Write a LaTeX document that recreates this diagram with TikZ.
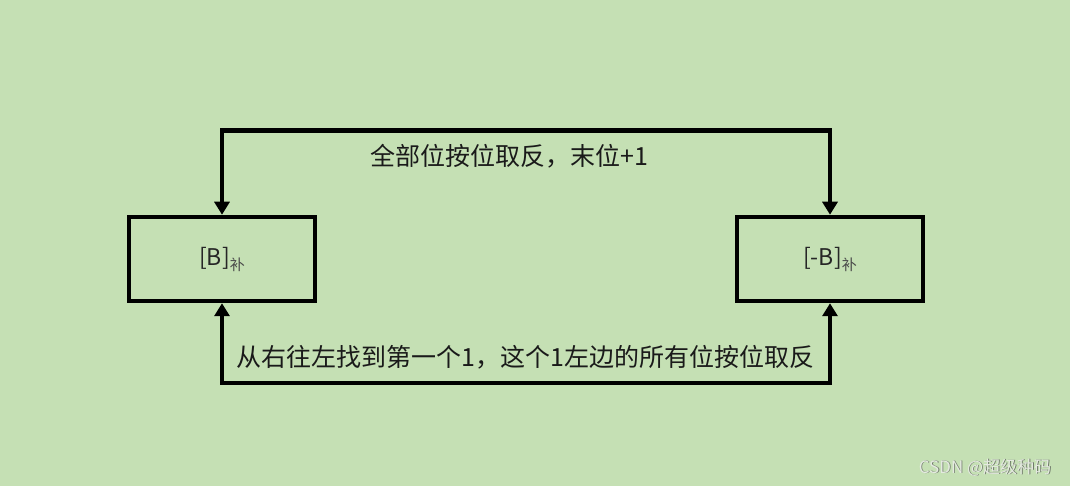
\documentclass[tikz,border=0pt]{standalone}
\usepackage{fontspec}
\setmainfont{Noto Sans CJK SC}
\usepackage{xcolor}
\usepackage{tikz}
\usetikzlibrary{arrows.meta}
\definecolor{bg}{HTML}{C5E0B4}
\definecolor{ink}{HTML}{1A1A1A}
\definecolor{boxtext}{HTML}{262626}
\definecolor{subtext}{HTML}{4A4A4A}
\definecolor{mark}{HTML}{E4EAE0}
\definecolor{markshadow}{HTML}{6E7869}
\tikzset{
  codebox/.style={draw=black, line width=4.5pt, minimum width=186pt, minimum height=84pt,
    inner sep=0pt, text=boxtext, font=\fontsize{23}{26}\selectfont},
  link/.style={draw=black, line width=4.5pt, {Triangle[width=15pt,length=13pt]}-{Triangle[width=15pt,length=13pt]}},
  lab/.style={text=ink, font=\fontsize{25}{30}\selectfont, inner sep=0pt},
  wm/.style={font=\fontsize{17}{20}\selectfont, inner sep=0pt},
}
\newcommand{\bu}{{\color{subtext}\fontsize{15}{15}\selectfont\raisebox{-5pt}{补}}}

\begin{document}
\begin{tikzpicture}[x=1pt, y=1pt]
  \fill[bg] (0,0) rectangle (1070,486);
  \useasboundingbox (0,0) rectangle (1070,486);

  \node[codebox] (pos) at (222,227) {[B]\bu};
  \node[codebox] (neg) at (830,227) {[-B]\bu};

  % upper and lower rules
  \draw[link] (pos.north) -- ++(0,84) -| (neg.north);
  \draw[link] (pos.south) -- ++(0,-80) -| (neg.south);

  \node[lab] (uplab) at (509,330) {全部位按位取反，末位+1};
  \node[lab] (lowlab) at (525.5,129) {从右往左找到第一个1，这个1左边的所有位按位取反};

  % watermark
  \node[wm, text=markshadow] (wmshadow) at (985.8,17.8) {CSDN @超级种码};
  \node[wm, text=mark] (wmtext) at (985,18.5) {CSDN @超级种码};
\end{tikzpicture}
\end{document}
